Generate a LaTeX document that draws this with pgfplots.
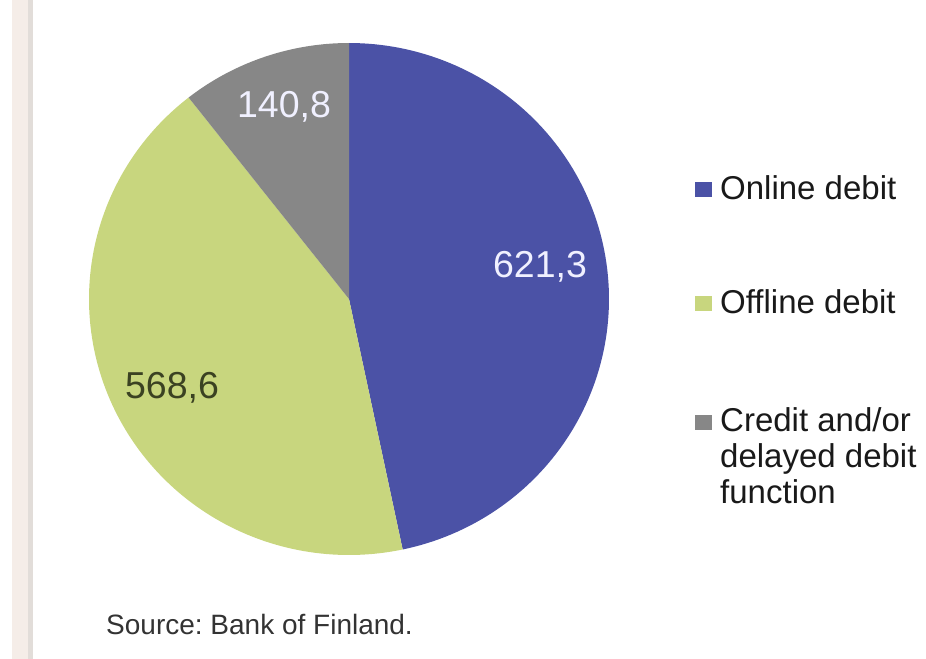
\documentclass[border=0pt]{standalone}
\usepackage{pgfplots}
\usepackage{pgfplotstable}
\pgfplotsset{compat=1.18}
\usepackage{fontspec}
\setmainfont{Liberation Sans}
\frenchspacing

\definecolor{onlineblue}{HTML}{4B52A6}
\definecolor{offgreen}{HTML}{C8D67E}
\definecolor{creditgray}{HTML}{878787}
\definecolor{labdark}{HTML}{3B4222}
\definecolor{stripe}{HTML}{F5EDE8}
\definecolor{stripeline}{HTML}{E2DDD9}

\pgfplotstableread{
slice value
Online 621.3
Offline 568.6
Credit 140.8
}\piedata

\pgfplotstablegetelem{0}{value}\of\piedata \pgfmathsetmacro{\va}{\pgfplotsretval}
\pgfplotstablegetelem{1}{value}\of\piedata \pgfmathsetmacro{\vb}{\pgfplotsretval}
\pgfplotstablegetelem{2}{value}\of\piedata \pgfmathsetmacro{\vc}{\pgfplotsretval}
\pgfmathsetmacro{\tot}{\va+\vb+\vc}
% slices run clockwise from 12 o'clock
\pgfmathsetmacro{\aA}{90-360*(\va/\tot)}
\pgfmathsetmacro{\aB}{\aA-360*(\vb/\tot)}
\pgfmathsetmacro{\aC}{\aB-360*(\vc/\tot)}
\def\cx{349}\def\cy{299}\def\rx{260}\def\ry{256}

\begin{document}
\begin{tikzpicture}
\begin{axis}[
  scale only axis, width=926bp, height=659bp,
  xmin=0, xmax=926, ymin=0, ymax=659, y dir=reverse,
  hide axis, clip=false,
]
\fill[stripe] (axis cs:12,0) rectangle (axis cs:28,659);
\fill[stripeline] (axis cs:28,0) rectangle (axis cs:33,659);

\addplot[fill=onlineblue, draw=none, domain=\aA:90, samples=120, variable=\t]
  ({\cx+\rx*cos(t)}, {\cy-\ry*sin(t)}) -- (axis cs:\cx,\cy) -- cycle;
\addplot[fill=offgreen, draw=none, domain=\aB:\aA, samples=120, variable=\t]
  ({\cx+\rx*cos(t)}, {\cy-\ry*sin(t)}) -- (axis cs:\cx,\cy) -- cycle;
\addplot[fill=creditgray, draw=none, domain=\aC:\aB, samples=60, variable=\t]
  ({\cx+\rx*cos(t)}, {\cy-\ry*sin(t)}) -- (axis cs:\cx,\cy) -- cycle;

% slice labels
\node[anchor=base, font=\fontsize{37.5bp}{40bp}\selectfont, text=white!94!blue] at (axis cs:540,277) {621,3};
\node[anchor=base, font=\fontsize{37.5bp}{40bp}\selectfont, text=labdark] at (axis cs:172,398) {568,6};
\node[anchor=base, font=\fontsize{37.5bp}{40bp}\selectfont, text=white!94!blue] at (axis cs:284,117) {140,8};

% legend
\fill[onlineblue] (axis cs:695,182) rectangle (axis cs:712,197);
\fill[offgreen] (axis cs:695,296) rectangle (axis cs:712,311);
\fill[creditgray] (axis cs:695,415) rectangle (axis cs:712,430);
\begin{scope}[every node/.style={anchor=base west, inner sep=0pt,
    font=\fontsize{33bp}{36bp}\selectfont, text=black!90}]
\node at (axis cs:720,199) {Online debit};
\node at (axis cs:720,313) {Offline debit};
\node at (axis cs:720,431) {Credit and/or};
\node at (axis cs:720,467) {delayed debit};
\node at (axis cs:720,503) {function};
\end{scope}

\node[anchor=base west, inner sep=0pt, font=\fontsize{28bp}{30bp}\selectfont, text=black!80] at (axis cs:106,634) {Source: Bank of Finland.};
\coordinate (bbA) at (axis cs:0,0);
\coordinate (bbB) at (axis cs:926,659);
\end{axis}
\pgfresetboundingbox
\path (bbA) rectangle (bbB);
\end{tikzpicture}
\end{document}
